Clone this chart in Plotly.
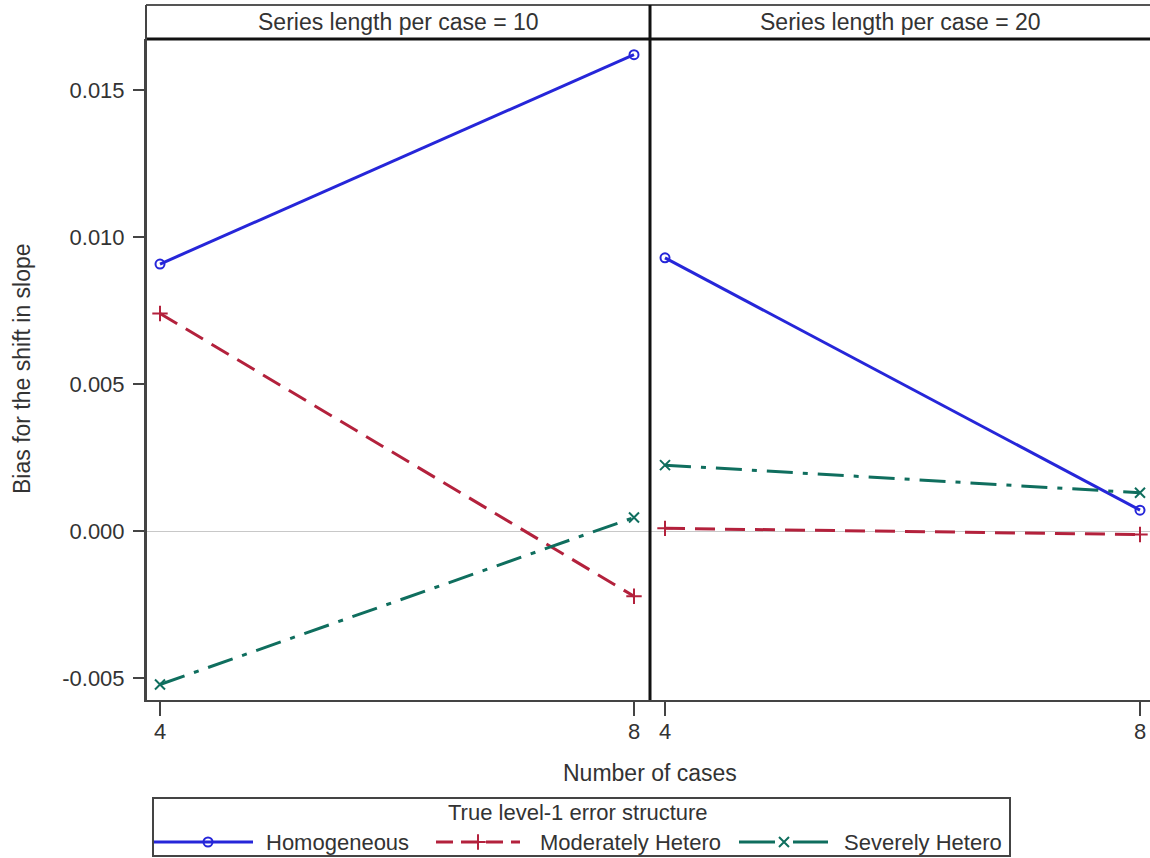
import plotly.graph_objects as go

# ---- data ----
cases = [4, 8]
series_lengths = [10, 20]
structures = ["Homogeneous", "Moderately Hetero", "Severely Hetero"]

homog_len10 = [0.00908, 0.01620]
moder_len10 = [0.00740, -0.00222]
sever_len10 = [-0.00522, 0.00046]

homog_len20 = [0.00929, 0.00071]
moder_len20 = [0.00009, -0.00012]
sever_len20 = [0.00224, 0.00130]

y_ticks = [-0.005, 0.000, 0.005, 0.010, 0.015]
y_ticktext = ["-0.005", "0.000", "0.005", "0.010", "0.015"]

# ---- styling ----
W, H = 1150, 858
FONT = "Liberation Sans, Arial, sans-serif"
TXT = "#333333"
AX = "#444444"

styles = {
    "Homogeneous": dict(color="#2626D9", dash="solid",
                        symbol="circle-open", size=9),
    "Moderately Hetero": dict(color="#B3213C", dash="20px,10px",
                              symbol="cross-thin-open", size=11),
    "Severely Hetero": dict(color="#0F6E5E", dash="26px,10px,5px,10px",
                            symbol="x-thin-open", size=10),
}

panel_data = {
    10: {"Homogeneous": homog_len10, "Moderately Hetero": moder_len10,
         "Severely Hetero": sever_len10},
    20: {"Homogeneous": homog_len20, "Moderately Hetero": moder_len20,
         "Severely Hetero": sever_len20},
}


def px_x(p):
    return p / W


def px_y(p):
    return 1 - p / H


# pixel layout of the panels
left_x0, mid_x, right_x1 = 146, 650, 1150
plot_top, plot_bot, strip_top = 39, 700, 5

fig = go.Figure()

axes_ids = {10: ("x", "y"), 20: ("x2", "y2")}
for L in series_lengths:
    xa, ya = axes_ids[L]
    for s in structures:
        st = styles[s]
        fig.add_trace(go.Scatter(
            x=cases, y=panel_data[L][s], xaxis=xa, yaxis=ya,
            mode="lines+markers", name=s, showlegend=False,
            line=dict(color=st["color"], width=3, dash=st["dash"]),
            marker=dict(symbol=st["symbol"], size=st["size"],
                        color=st["color"], line=dict(width=2, color=st["color"])),
            cliponaxis=False,
        ))

# ---- legend drawn in pixel space on an overlay axis ----
legend_row_y = 842
legend_items = [
    ("Homogeneous", 154, 253, 208, 264),
    ("Moderately Hetero", 436, 520, 478, 538),
    ("Severely Hetero", 739, 828, 784, 842),
]
legend_dash = {"Homogeneous": "solid", "Moderately Hetero": "17px,8px",
               "Severely Hetero": "36px,18px"}
for name, lx0, lx1, mx, tx in legend_items:
    st = styles[name]
    fig.add_trace(go.Scatter(
        x=[lx0, lx1], y=[legend_row_y, legend_row_y], xaxis="x3", yaxis="y3",
        mode="lines", showlegend=False, hoverinfo="skip",
        line=dict(color=st["color"], width=3, dash=legend_dash[name]),
    ))
    fig.add_trace(go.Scatter(
        x=[mx], y=[legend_row_y], xaxis="x3", yaxis="y3",
        mode="markers", showlegend=False, hoverinfo="skip",
        marker=dict(symbol=st["symbol"], size=st["size"], color=st["color"],
                    line=dict(width=2, color=st["color"])),
    ))

# x ranges mapped so ticks land where the panels need them
def x_range(d0, d1, p4, p8):
    ppu = (p8 - p4) / 4.0
    return [4 - (p4 - d0) / ppu, 8 + (d1 - p8) / ppu]


ppu_y = 29400.0
zero_px = 531
y_range = [-(plot_bot - zero_px) / ppu_y, (zero_px - plot_top) / ppu_y]

tickfont = dict(family=FONT, size=22, color=TXT)
common_x = dict(tickvals=cases, ticktext=[str(c) for c in cases],
                ticks="outside", ticklen=14, tickwidth=2, tickcolor=AX,
                showline=True, linewidth=2, linecolor=AX, showgrid=False,
                zeroline=False, tickfont=tickfont, automargin=False,
                fixedrange=True, ticklabelstandoff=-3)
common_y = dict(range=y_range, showgrid=False, zeroline=True,
                zerolinecolor="#C8C8C8", zerolinewidth=1, automargin=False,
                fixedrange=True)

fig.update_layout(
    width=W, height=H, autosize=False,
    margin=dict(l=0, r=0, t=0, b=0),
    paper_bgcolor="white", plot_bgcolor="rgba(0,0,0,0)",
    font=dict(family=FONT, color=TXT),
    showlegend=False,
    xaxis=dict(domain=[px_x(left_x0), px_x(mid_x)],
               range=x_range(left_x0, mid_x, 160, 634), anchor="y", **common_x),
    xaxis2=dict(domain=[px_x(mid_x), 1.0],
                range=x_range(mid_x, right_x1, 665, 1140), anchor="y2", **common_x),
    yaxis=dict(domain=[px_y(plot_bot), px_y(plot_top)], anchor="x",
               tickvals=y_ticks, ticktext=y_ticktext, ticks="outside",
               ticklen=11, tickwidth=2, tickcolor=AX, showline=True,
               linewidth=2, linecolor=AX, tickfont=tickfont,
               ticklabelstandoff=4, **common_y),
    yaxis2=dict(domain=[px_y(plot_bot), px_y(plot_top)], anchor="x2",
                matches="y", showticklabels=False, ticks="", showline=False,
                **common_y),
    xaxis3=dict(domain=[0, 1], range=[0, W], visible=False, fixedrange=True,
                anchor="y3"),
    yaxis3=dict(domain=[0, 1], range=[H, 0], visible=False, fixedrange=True,
                anchor="x3"),
)

shapes = []
# header strip
shapes.append(dict(type="line", xref="paper", yref="paper",
                   x0=px_x(left_x0), x1=1, y0=px_y(strip_top), y1=px_y(strip_top),
                   line=dict(color="#555555", width=2)))
shapes.append(dict(type="line", xref="paper", yref="paper",
                   x0=px_x(left_x0), x1=1, y0=px_y(plot_top), y1=px_y(plot_top),
                   line=dict(color="#111111", width=3)))
shapes.append(dict(type="line", xref="paper", yref="paper",
                   x0=px_x(left_x0), x1=px_x(left_x0), y0=px_y(plot_bot),
                   y1=px_y(strip_top), line=dict(color=AX, width=2)))
# divider between panels
shapes.append(dict(type="line", xref="paper", yref="paper",
                   x0=px_x(mid_x), x1=px_x(mid_x), y0=px_y(plot_bot),
                   y1=px_y(strip_top), line=dict(color="#111111", width=3)))
# legend frame
shapes.append(dict(type="rect", xref="paper", yref="paper",
                   x0=px_x(153), x1=px_x(1010), y0=px_y(856), y1=px_y(798),
                   line=dict(color=AX, width=2), fillcolor="rgba(0,0,0,0)"))
fig.update_layout(shapes=shapes)

lab = dict(family=FONT, size=23, color=TXT)
leg = dict(family=FONT, size=22, color=TXT)
annotations = [
    dict(text=f"Series length per case = {series_lengths[0]}", x=px_x((left_x0 + mid_x) / 2),
         y=px_y(22), xref="paper", yref="paper", showarrow=False, font=lab,
         xanchor="center", yanchor="middle"),
    dict(text=f"Series length per case = {series_lengths[1]}", x=px_x((mid_x + right_x1) / 2),
         y=px_y(22), xref="paper", yref="paper", showarrow=False, font=lab,
         xanchor="center", yanchor="middle"),
    dict(text="Bias for the shift in slope", x=px_x(22), y=px_y(369),
         xref="paper", yref="paper", showarrow=False, font=lab, textangle=-90,
         xanchor="center", yanchor="middle"),
    dict(text="Number of cases", x=px_x(650), y=px_y(773), xref="paper",
         yref="paper", showarrow=False, font=lab, xanchor="center",
         yanchor="middle"),
    dict(text="True level-1 error structure", x=px_x(578), y=px_y(812),
         xref="paper", yref="paper", showarrow=False, font=leg,
         xanchor="center", yanchor="middle"),
]
for name, lx0, lx1, mx, tx in legend_items:
    annotations.append(dict(text=name, x=px_x(tx), y=px_y(legend_row_y),
                            xref="paper", yref="paper", showarrow=False,
                            font=leg, xanchor="left", yanchor="middle"))
fig.update_layout(annotations=annotations)

fig.write_html("out.html")
